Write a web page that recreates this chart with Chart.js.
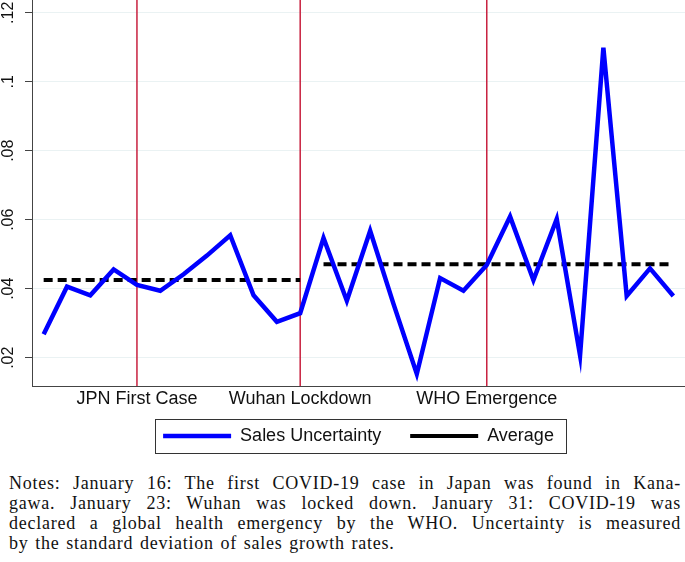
<!DOCTYPE html>
<html>
<head>
<meta charset="utf-8">
<script src="https://cdn.jsdelivr.net/npm/chart.js@4.4.1/dist/chart.umd.min.js"></script>
<style>
  body { margin: 0; background: #fff; }
  #wrap { position: relative; width: 685px; height: 562px; overflow: hidden; }
  #chart { position: absolute; left: 0; top: 0; }
  #notes {
    position: absolute; left: 9px; top: 473px; width: 672px;
    font-family: "Liberation Serif", "Times New Roman", serif;
    font-size: 18px; letter-spacing: 0.75px; word-spacing: 1.5px; line-height: 20px; color: #111;
  }
  #notes span { display: block; text-align: justify; text-align-last: justify; white-space: nowrap; }
  #notes span.last { text-align-last: left; }
</style>
</head>
<body>
<div id="wrap">
  <canvas id="chart" width="685" height="455"></canvas>
  <div id="notes">
    <span>Notes: January 16: The first COVID-19 case in Japan was found in Kana-</span>
    <span>gawa. January 23: Wuhan was locked down. January 31: COVID-19 was</span>
    <span>declared a global health emergency by the WHO. Uncertainty is measured</span>
    <span class="last">by the standard deviation of sales growth rates.</span>
  </div>
</div>
<script>
// days of the sample (one point per day)
const days = ["Jan 12", "Jan 13", "Jan 14", "Jan 15", "Jan 16", "Jan 17", "Jan 18",
              "Jan 19", "Jan 20", "Jan 21", "Jan 22", "Jan 23", "Jan 24", "Jan 25",
              "Jan 26", "Jan 27", "Jan 28", "Jan 29", "Jan 30", "Jan 31", "Feb 1",
              "Feb 2", "Feb 3", "Feb 4", "Feb 5", "Feb 6", "Feb 7", "Feb 8"];

// sales uncertainty (sd of sales growth rates)
const salesUncertainty = [0.0268, 0.0406, 0.0381, 0.0456, 0.0411, 0.0394, 0.0442,
                          0.0496, 0.0555, 0.0381, 0.0304, 0.0329, 0.0547, 0.0365,
                          0.0568, 0.0356, 0.0153, 0.0431, 0.0394, 0.0469, 0.0609,
                          0.0425, 0.0602, 0.0207, 0.1099, 0.0379, 0.0459, 0.0379];

// period averages (before / after the Wuhan lockdown)
const avgValues = [0.0425, 0.0471];
const avgStart = ["Jan 12", "Jan 24"];
const avgEnd = ["Jan 23", "Feb 8"];

// event markers
const eventDays = ["Jan 16", "Jan 23", "Jan 31"];
const eventLabels = ["JPN First Case", "Wuhan Lockdown", "WHO Emergence"];

// y axis
const yTicks = [0.02, 0.04, 0.06, 0.08, 0.10, 0.12];
const yTickLabels = [".02", ".04", ".06", ".08", ".1", ".12"];

const FONT = "'Liberation Sans', Arial, Helvetica, sans-serif";

// build the average series from the period values
function periodSeries(k) {
    const a = days.indexOf(avgStart[k]);
    const b = days.indexOf(avgEnd[k]);
    return days.map((d, i) => (i >= a && i <= b) ? avgValues[k] : null);
}

// red vertical lines at the events
const eventLines = {
    id: "eventLines",
    beforeDatasetsDraw(chart) {
        const ctx = chart.ctx;
        const xs = chart.scales.x;
        const area = chart.chartArea;
        ctx.save();
        ctx.strokeStyle = "#c8203f";
        ctx.lineWidth = 1.5;
        eventDays.forEach(d => {
            const px = xs.getPixelForValue(days.indexOf(d));
            ctx.beginPath();
            ctx.moveTo(px, area.top);
            ctx.lineTo(px, area.bottom);
            ctx.stroke();
        });
        ctx.restore();
    }
};

// frame around the legend
const legendFrame = {
    id: "legendFrame",
    afterDraw(chart) {
        const boxes = chart.legend.legendHitBoxes;
        if (!boxes || !boxes.length) return;
        const left = Math.min(...boxes.map(b => b.left)) - 8;
        const right = Math.max(...boxes.map(b => b.left + b.width)) + 12;
        const top = Math.min(...boxes.map(b => b.top)) - 8;
        const bottom = Math.max(...boxes.map(b => b.top + b.height)) + 8;
        const ctx = chart.ctx;
        ctx.save();
        ctx.strokeStyle = "#333";
        ctx.lineWidth = 1;
        ctx.strokeRect(Math.round(left) + 0.5, Math.round(top) + 0.5, Math.round(right - left), Math.round(bottom - top));
        ctx.restore();
    }
};

new Chart(document.getElementById("chart"), {
    type: "line",
    data: {
        labels: days,
        datasets: [{
            label: "Sales Uncertainty",
            data: salesUncertainty,
            borderColor: "#0000ff",
            backgroundColor: "#0000ff",
            borderWidth: 4.5,
            pointRadius: 0,
            tension: 0,
            order: 1
        }, {
            label: "Average",
            data: periodSeries(0),
            borderColor: "#000",
            backgroundColor: "#000",
            borderWidth: 4,
            borderDash: [9, 5],
            pointRadius: 0,
            spanGaps: false,
            order: 2
        }, {
            label: "Average (after)",
            data: periodSeries(1),
            borderColor: "#000",
            backgroundColor: "#000",
            borderWidth: 4,
            borderDash: [9, 5],
            pointRadius: 0,
            spanGaps: false,
            order: 2
        }]
    },
    options: {
        responsive: false,
        animation: false,
        layout: { padding: 0 },
        plugins: {
            legend: {
                position: "bottom",
                fullSize: false,
                labels: {
                    usePointStyle: true,
                    pointStyle: "line",
                    pointStyleWidth: 68,
                    padding: 15,
                    color: "#111",
                    font: { family: FONT, size: 18 },
                    filter: item => item.datasetIndex < 2,
                    generateLabels: chart => {
                        const items = Chart.defaults.plugins.legend.labels.generateLabels(chart);
                        // wider gap after the first entry
                        items[0].text = items[0].text + " \u2002";
                        return items;
                    }
                }
            },
            tooltip: { enabled: false }
        },
        scales: {
            x: {
                type: "category",
                offset: true,
                grid: { display: false, drawTicks: false },
                border: { display: true, color: "#444", width: 1 },
                ticks: {
                    autoSkip: false,
                    maxRotation: 0,
                    padding: 2,
                    color: "#111",
                    font: { family: FONT, size: 18 },
                    callback: function (value) {
                        const k = eventDays.indexOf(days[value]);
                        return k >= 0 ? eventLabels[k] : "";
                    }
                },
                afterFit: s => {
                    s.height = 26;
                    s.paddingLeft = 0;
                    s.paddingRight = 0;
                }
            },
            y: {
                min: 0.0118,
                max: 0.1237,
                grid: { color: "#eaf2f3", lineWidth: 1, tickColor: "#444", tickLength: 7 },
                border: { display: true, color: "#444", width: 1 },
                afterBuildTicks: s => { s.ticks = yTicks.map(v => ({ value: v })); },
                ticks: {
                    minRotation: 90,
                    maxRotation: 90,
                    crossAlign: "center",
                    padding: 5,
                    color: "#111",
                    font: { family: FONT, size: 16 },
                    callback: function (value) {
                        const k = yTicks.findIndex(t => Math.abs(t - value) < 1e-9);
                        return k >= 0 ? yTickLabels[k] : "";
                    }
                },
                afterFit: s => {
                    s.width = 32;
                    s.paddingTop = 0;
                    s.paddingBottom = 0;
                }
            }
        }
    },
    plugins: [eventLines, legendFrame]
});
</script>
</body>
</html>
